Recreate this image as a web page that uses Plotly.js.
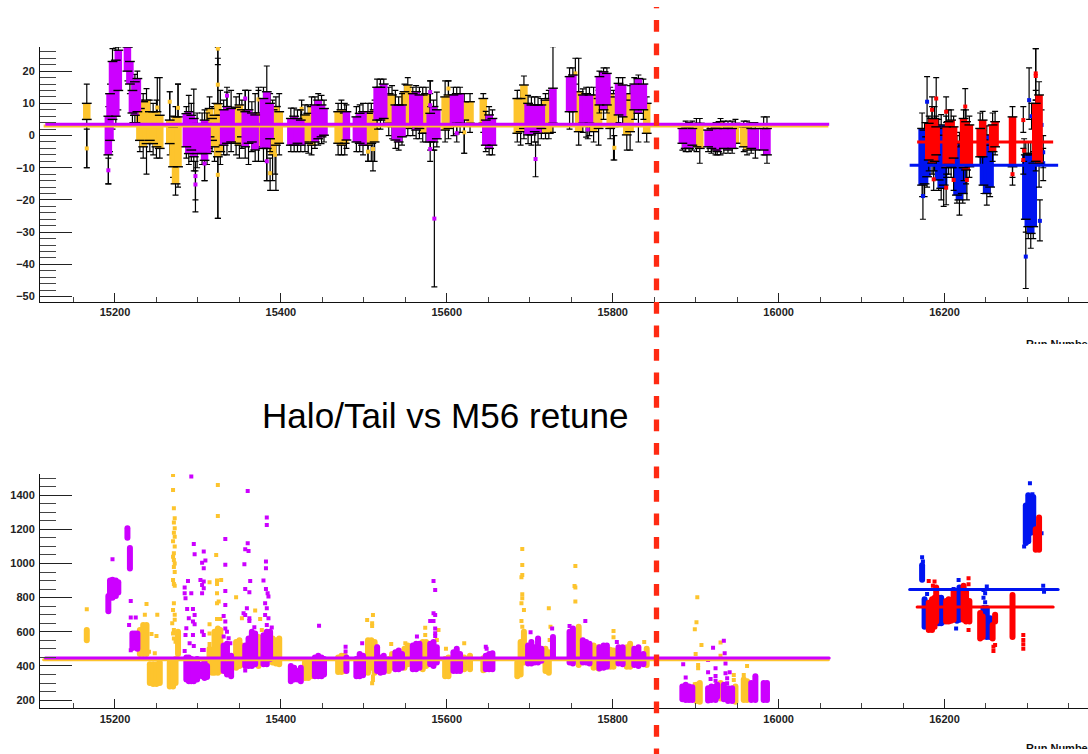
<!DOCTYPE html>
<html><head><meta charset="utf-8">
<script src="https://cdn.plot.ly/plotly-3.0.1.min.js"></script>
<style>html,body{margin:0;padding:0;background:#fff;overflow:hidden;width:1088px;height:754px}
#chart{width:1088px;height:754px;position:relative}
#chart .subplot.x2y2 .js-line{stroke-linecap:round}
.cut{position:absolute;background:#fff;left:1015px;width:73px;height:7px;z-index:5}</style>
</head><body><div id="chart"></div>
<div class="cut" style="top:344px"></div><div class="cut" style="top:749px"></div>
<script>
// ---- period 1 (orange) ----
const orangeRuns=[15166,15230,15234,15238,15242,15246,15250,15254,15266,15270,15273,15276,15314,15317,15320,15324,15327,15346,15350,15353,15373,15390,15394,15398,15429,15433,15437,15469,15473,15477,15505,15509,15513,15530,15534,15549,15553,15571,15575,15598,15602,15621,15628,15644,15685,15689,15693,15719,15723,15759,15777,15783,15797,15801,15817,15821,15841,15901,15905,15930,15948,15958,15962];
const orangeTopLow=[5,-1.5,-3.5,-2.5,-1.5,-2.5,-3.5,-4,-2.5,-9.7,-15,-9.7,-0.4,-1.5,-3.5,-6.6,-5,-2.4,-3,-0.4,-3.5,-6,-3,-2.4,-2,-2.4,-3,-2.4,-3,-2.4,-3,-2.4,-2,3.8,2.8,3.3,2.2,0.7,0.7,1.7,2.2,4.8,3.8,3.8,0.7,1.2,2.2,0.7,0.7,1.2,1.2,2.2,2.2,2.8,0.2,1.2,0.7,-3.5,-4,-4,-2.4,-3.5,-4.5];
const orangeTopHigh=[10,8.4,10.5,11,7.4,7.4,7.4,6.3,4.8,2.7,5.8,5.8,8.4,5.3,6.3,9.9,6.3,8.8,9.5,8,7,8,9,7.4,6.4,6.9,9,7.4,8,7,6.9,7.4,8,13,12.6,13.6,15.7,12.6,13,12,12.6,10.5,10.5,11.5,11.5,11.5,15.7,11,11.5,13.6,12.6,11.5,13,12,11,13,10,3.8,3.8,4.3,3.8,2.7,2.7];
const orangeTopErrLow=[-10,-5,-7,-12,-5,-6,-7,-7,-6,-13,-18.5,-16,-4,-5,-8,-25.7,-9,-6,-7,-4,-8,-14,-17,-6,-5,-5.5,-6,-6,-6,-6,-8,-8,-8,0,-1,0,0,-2,-2,-2,-1,-5.5,1,1,-2,-3,-1,-1,-1,-3,-2,-3,-1,-7.6,-4.5,-4.5,-2,-5,-8.6,-6,-4,-5,-6];
const orangeTopErrHigh=[16,11,13,14.6,11,10,11,18,13.6,6,9,16,12,9,10,27.5,14,12,13,11,14,11,12,13,9.5,9.5,12,10,11,10,10,10,11,15,15.5,16,18,15,15,17,17,13,13,13,14,14,18.5,13,14,24,15,14,15,14,13,15.5,12,5.3,5.3,5.3,5,4.5,4.5];
const orangeBotLow=[550,470,470,470,300,295,295,300,280,280,300,470,370,360,360,360,370,390,400,410,400,420,415,410,330,330,340,365,365,370,360,390,360,370,390,390,410,380,400,340,340,380,380,375,340,350,420,370,360,405,390,385,395,395,395,395,405,195,190,210,190,200,200];
const orangeBotHigh=[610,610,640,640,410,410,410,420,420,420,440,600,500,420,600,620,610,540,550,520,570,560,550,560,420,420,430,450,460,460,550,550,540,440,470,500,520,540,540,440,450,450,460,445,420,540,600,500,480,630,520,510,495,490,510,530,500,290,300,300,280,320,310];
// ---- period 1 (magenta) ----
const magentaRuns=[15192,15194,15197,15201,15204,15215,15218,15221,15224,15227,15286,15289,15292,15295,15299,15305,15308,15311,15331,15335,15340,15357,15361,15365,15369,15379,15383,15387,15412,15416,15420,15424,15441,15445,15449,15452,15479,15491,15495,15499,15516,15520,15524,15538,15542,15546,15559,15563,15567,15580,15584,15588,15608,15612,15616,15647,15651,15655,15698,15702,15706,15710,15714,15728,15748,15752,15764,15768,15772,15784,15789,15793,15807,15812,15826,15831,15837,15884,15888,15892,15896,15915,15919,15924,15926,15934,15939,15944,15967,15972,15982,15986];
const magentaTopLow=[-6,-1.5,5,6,14,20,16,7,6.3,7.4,-3.5,-5.6,-4.5,-6.6,-5.6,-5.6,-7.7,-5.6,-3,-2.4,-2,-3.5,-2.4,-2,-4.5,-4,-4,-1,-3,-3,-2.4,-3,-2,-1,-0.4,0.1,-1.4,-2,-2.4,-3,4.8,4.8,5.3,-1.4,-2,-0.4,2.8,1.7,2.2,-2,-2,-1,3.3,3.8,3.8,-3,-4,-3,0.2,0.2,1.2,0.7,2.2,3.8,7.4,7.4,3.8,3.3,3.8,9.5,8,9.5,6.4,5.8,8,6.9,8,-2.4,-4,-4,-3,-3.5,-4,-4.5,-5,-4,-4.5,-4,-4,-4.5,-4.5,-6];
const magentaTopHigh=[6,13,23,23.4,26.5,27.5,23,14,16.7,17.7,6.8,7.4,6.3,5.3,3.7,3.7,4.8,3.7,8,9,8.4,7.4,8,7,6.4,11.5,13.6,10,5.3,6,5.3,4.8,9.5,11,9.5,8.4,7.4,5.8,6.9,7.4,15,15,16,9.5,9.5,9.5,13,13.6,12.6,6.9,9,8,12.6,13,13,4.8,6.4,5.3,10,9.5,9.5,9.5,9.5,14.7,18.3,18.8,12.6,13,12.6,18.3,19.8,19.3,16.2,15.7,16,17.7,16,2.2,2.7,2.7,2.2,1.7,2.2,2.7,2.2,2.2,2.7,2.2,2.2,2.2,2.2,2.2];
const magentaTopErrLow=[-15,-5,2,3,8,17,13,4,4,4,-7,-9,-8,-11,-10,-9,-14,-9,-6,-6,-5,-7,-9,-5,-8,-8,-14,-5,-5,-5,-5,-5,-4,-3,-2.5,-2,-4,-5,-5,-6,2,2,3,-4,-4.5,-3,0,-1,-1,-4.5,-4.5,-3.5,0,0.5,1,-5,-6,-6,-2.5,-3,-2,-3,-1,1,2,3,1,-0.5,0,7,5,7,4,3,5,-2,5,-4.5,-5,-5,-4.5,-5,-5.5,-6,-6,-5.5,-5.5,-5.5,-5.5,-7,-6,-8.6];
const magentaTopErrHigh=[9,16,27,27.5,27.5,27.5,27.5,17,19,20,9,12.5,10,14.4,7,7,8,7,11,13.5,14,14,14,10.5,13,15,21.6,13,8.5,8.5,8,8,12,13,12.5,11,9.5,9,9.5,10,17.5,17.5,17.5,14,12,13,15,15.5,15,17,11,13.5,15,15,15,7.5,9,8,12.5,12,12,12,11.5,27.6,21,21,14.5,15,15,20,21,21,18,18,18,18.8,17.5,3.5,4.5,4,4.5,3,3.5,4,4,4.5,4.5,4.5,4,4,5.8,5.8];
const magentaBotLow=[720,800,800,810,830,1150,970,505,510,500,320,310,310,310,320,340,330,335,370,350,340,400,400,400,410,410,410,440,310,320,320,310,340,340,340,350,370,340,340,345,370,360,365,380,380,390,380,380,390,410,400,420,370,370,370,380,380,380,415,415,420,420,430,455,420,415,420,420,415,385,390,395,415,410,405,400,410,205,200,200,200,197,200,200,220,205,195,195,200,200,200,200];
const magentaBotHigh=[810,900,905,900,890,1206,1090,590,590,590,450,450,440,430,440,410,420,400,520,530,460,520,560,600,590,580,600,600,400,390,370,390,450,460,450,440,450,440,470,460,510,450,460,480,490,470,520,530,530,530,540,510,480,500,470,460,470,475,520,540,510,560,500,570,600,620,550,540,530,510,520,520,510,510,500,510,470,280,290,280,275,270,280,280,290,290,270,270,300,340,300,300];
// ---- period 2 (blue, red) ----
const blueRuns=[16173,16176,16179,16193,16196,16199,16215,16218,16222,16247,16251,16255,16298,16301,16304,16307];
const blueTopLow=[-15.4,-15,-12.8,-13.8,-16.4,-15.4,-18.5,-20,-18,-15.4,-18,-16,-26,-28.3,-30.4,-28.3];
const blueTopHigh=[2.2,1.7,-0.4,2.2,3.3,0.1,-3.5,-2.4,-3,-1.4,0.2,-3,-6,-5.5,-6,-8.6];
const blueTopErrLow=[-19,-19,-16,-17,-20,-22,-21,-24.7,-21,-18,-21.6,-19,-30,-32,-35,-32];
const blueTopErrHigh=[7,4,4,5,6.5,3,0,1,0,1.5,3,0,-2,-2,-2,-5];
const blueBotLow=[905,630,640,650,650,660,665,670,680,640,570,570,1120,1130,1180,1200];
const blueBotHigh=[990,790,760,800,800,760,830,860,850,740,740,680,1340,1400,1350,1390];
const redRuns=[16181,16185,16188,16190,16202,16205,16208,16211,16223,16226,16230,16243,16246,16258,16261,16282,16310,16314];
const redTopLow=[-7.6,-8.6,-8,-6,-10,-9,-9.7,-7,-10,-10.7,-9.7,-6.6,-6.6,-5,-3.5,-9.7,-8,-8.6];
const redTopHigh=[3.8,5.3,5.3,2.7,2.7,4.3,4.8,2.7,5.3,4.3,3.3,2.2,4.8,3.3,4.3,5.8,10,12.6];
const redTopErrLow=[-11,-12,-11,-9,-13,-12,-13,-10,-14,-15,-13,-9,-9,-8,-6,-13,-11,-16];
const redTopErrHigh=[6,9,9,6,6,8,8,6,8,8,6,7,7.5,7,7.5,9,14,16.7];
const redBotLow=[610,610,630,660,660,660,665,670,670,660,660,560,570,560,660,570,1080,1080];
const redBotHigh=[770,790,800,860,780,790,780,840,870,840,780,710,690,640,700,815,1200,1270];
// ---- isolated points, upper panel ----
const orangeTopOutRuns=[15166,15251,15266,15276,15324,15324,15324,15373,15387,15393,15425,15505,15511,15602,15621,15755,15802];
const orangeTopOutVals=[-4,8.7,10.5,8.6,27,15.8,-12.2,11.2,-11.7,-6,8.3,-5,-4.2,14.6,1,19.3,-3.8];
const orangeTopOutLow=[-10,0,2,2,22,9,-25.7,7,-17,-12,5,-8,-11,11,-5.5,16,-7.6];
const orangeTopOutHigh=[2,18,13.6,16,27.5,24,-5,15,-7,-2,11,-2,-1,17,6,24,0];
const magentaTopOutRuns=[15192,15297,15297,15308,15335,15357,15383,15580,15580,15580,15585,15612,15707,15770];
const magentaTopOutVals=[-10.8,-12.6,-15.2,-8.7,12.4,11.5,-8,13.5,9.4,-4.2,-25.8,0.7,-7.3,1.9];
const magentaTopOutLow=[-15,-20,-23.7,-14,9,8,-14,9,6,-8,-47,-2,-12.8,-1];
const magentaTopOutHigh=[-7,-8,-11,-5,15,14,-4,17,13,-1,-4.5,3.5,-2,5];
const blueTopOutRuns=[16179,16174,16298,16302,16305,16315,16319,16319,16317];
const blueTopOutVals=[10.5,-18.8,-37.6,11,6,-26.5,-8.6,-5.2,3.3];
const blueTopOutLow=[3,-26,-47.5,5,2,-32.7,-14,-10,-2];
const blueTopOutHigh=[18.3,-12,-26,21,10,-20,-4,0,8];
const redTopOutRuns=[16190,16185,16187,16202,16202,16211,16225,16227,16282,16295,16295,16296,16310,16310];
const redTopOutVals=[11.5,8,-13.6,7.4,-16.2,-13.8,9,-13.8,-12,-7.6,4.8,-4.7,19.3,18.5];
const redTopOutLow=[5,5,-17,4,-21.5,-17,4,-20,-15.4,-12,1,-8,11,11];
const redTopOutHigh=[18,12,-9,12,-12,-10,14.6,-9,-9,-4,9,-1,27,27];
// ---- isolated points, lower panel ----
const orangeBotOutRuns=[15166,15238,15251,15244,15250,15241,15248,15236,15270,15270,15271,15272,15271,15272,15271,15272,15270,15272,15271,15270,15271,15272,15271,15272,15270,15271,15272,15271,15270,15272,15272,15269,15271,15270,15271,15273,15324,15324,15322,15323,15323,15328,15314,15323,15323,15325,15314,15314,15327,15323,15314,15314,15346,15353,15369,15375,15377,15504,15511,15510,15510,15511,15510,15511,15533,15550,15574,15574,15590,15588,15599,15621,15691,15691,15691,15690,15691,15691,15690,15693,15690,15691,15686,15688,15723,15725,15724,15755,15754,15755,15755,15801,15801,15838,15841,15902,15901,15899,15907,15900,15903,15903,15899,15930,15930,15946,15946,15962,15958];
const orangeBotOutVals=[732,763,700,587,575,483,474,700,1518,1430,1323,1265,1240,1206,1180,1157,1130,1099,1060,1040,1020,1000,980,950,903,880,870,767,728,700,670,650,611,590,560,542,1460,1278,1050,900,880,903,890,825,767,777,644,590,675,675,529,497,802,680,724,675,611,669,699,650,634,338,298,318,529,533,624,581,611,552,500,533,1085,991,933,919,820,797,767,728,663,630,345,377,738,630,552,986,868,860,777,605,568,540,500,802,656,615,523,470,405,386,293,537,460,347,318,400,347];
const magentaBotOutRuns=[15197,15219,15219,15225,15217,15219,15292,15295,15296,15307,15305,15309,15307,15288,15303,15307,15305,15284,15284,15292,15305,15307,15285,15287,15294,15289,15296,15294,15296,15286,15285,15294,15305,15307,15290,15295,15284,15305,15307,15333,15333,15333,15333,15331,15333,15333,15335,15331,15337,15339,15360,15360,15357,15361,15356,15363,15357,15362,15359,15355,15357,15362,15362,15368,15357,15383,15383,15382,15382,15379,15382,15384,15385,15381,15383,15381,15385,15383,15389,15446,15478,15478,15498,15516,15564,15584,15586,15584,15586,15580,15584,15586,15586,15586,15647,15648,15701,15727,15748,15767,15805,15885,15888,15921,15915,15924,15915,15924,15918,15924,15934,15935,15936,15936,15941,15938,15938];
const magentaBotOutVals=[1025,780,683,683,640,492,1509,1114,1054,1070,1005,1017,972,898,904,894,874,859,825,825,825,855,796,734,734,679,699,660,644,621,581,581,601,581,533,517,488,494,494,1144,993,839,757,693,660,620,600,572,562,533,1425,1118,1083,1073,995,898,851,831,738,708,699,679,663,626,373,1269,1226,1011,972,900,851,825,806,767,738,699,679,640,625,636,513,484,533,513,572,898,845,708,699,663,663,620,591,576,513,500,597,620,634,663,540,410,333,507,435,386,363,341,324,314,548,474,415,357,363,328,298];
const blueBotOutRuns=[16173,16174,16179,16217,16214,16211,16251,16247,16249,16247,16249,16303,16306,16296,16319,16320,16315,16315,16317];
const blueBotOutVals=[1036,1011,822,904,620,851,865,845,825,800,773,1470,1405,1100,870,835,1100,1235,1177];
const redBotOutRuns=[16181,16188,16186,16229,16229,16229,16259,16259,16261,16295,16295,16295,16295];
const redBotOutVals=[898,894,870,913,878,610,513,488,523,581,552,527,500];
// ---- fitted mean lines ----
const orangeSpan=[15114,16060], magentaSpan=[15116,16061], redSpan=[16167,16331], blueSpan=[16158,16337];
const orangeMeanTop=3.0, magentaMeanTop=3.5, redMeanTop=-2.0, blueMeanTop=-9.2;
const orangeMeanBot=436, magentaMeanBot=446, redMeanBot=745, blueMeanBot=847;
// ---- labels ----
const titleText="Halo/Tail vs M56 retune", xAxisLabel="Run Number";

const ORANGE="#fdc42d",MAGENTA="#cc00ff",BLUE="#0014f0",RED="#ff0000";
const traces=[];
function whiskers(runs,lo,hi,xa,ya,capw){
  const mid=lo.map((v,i)=>(v+hi[i])/2);
  traces.push({type:'scatter',mode:'markers',x:runs,y:mid,xaxis:xa,yaxis:ya,hoverinfo:'skip',
    marker:{size:1,opacity:0},
    error_y:{type:'data',symmetric:false,array:hi.map((v,i)=>v-mid[i]),arrayminus:lo.map((v,i)=>mid[i]-v),color:'#000',thickness:1.2,width:capw}});
}
function columns(runs,lo,hi,color,xa,ya,w){
  const x=[],y=[];
  runs.forEach((r,i)=>{x.push(r,r,null);y.push(lo[i],hi[i],null);});
  traces.push({type:'scatter',mode:'lines',x,y,xaxis:xa,yaxis:ya,hoverinfo:'skip',line:{color,width:w}});
}
function points(runs,vals,color,xa,ya){
  traces.push({type:'scatter',mode:'markers',x:runs,y:vals,xaxis:xa,yaxis:ya,hoverinfo:'skip',marker:{symbol:'square',size:4,color}});
}
function edges(runs,lo,hi){
  traces.push({type:'scatter',mode:'markers',x:runs.concat(runs),y:lo.concat(hi),xaxis:'x',yaxis:'y',hoverinfo:'skip',
    marker:{symbol:'line-ew-open',size:7,color:'#000',line:{color:'#000',width:1.4}}});
}
function mean(span,v,color,xa,ya){
  traces.push({type:'scatter',mode:'lines',x:span,y:[v,v],xaxis:xa,yaxis:ya,hoverinfo:'skip',line:{color,width:3}});
}
function topSeries(runs,lo,hi,eLo,eHi,oR,oV,oLo,oHi,color){
  whiskers(oR,oLo,oHi,'x','y',3);
  whiskers(runs,eLo,eHi,'x','y',3);
  columns(runs,lo,hi,color,'x','y',7.5);
  edges(runs,lo,hi);
  points(oR,oV,color,'x','y');
}
topSeries(orangeRuns,orangeTopLow,orangeTopHigh,orangeTopErrLow,orangeTopErrHigh,orangeTopOutRuns,orangeTopOutVals,orangeTopOutLow,orangeTopOutHigh,ORANGE);
topSeries(magentaRuns,magentaTopLow,magentaTopHigh,magentaTopErrLow,magentaTopErrHigh,magentaTopOutRuns,magentaTopOutVals,magentaTopOutLow,magentaTopOutHigh,MAGENTA);
topSeries(blueRuns,blueTopLow,blueTopHigh,blueTopErrLow,blueTopErrHigh,blueTopOutRuns,blueTopOutVals,blueTopOutLow,blueTopOutHigh,BLUE);
topSeries(redRuns,redTopLow,redTopHigh,redTopErrLow,redTopErrHigh,redTopOutRuns,redTopOutVals,redTopOutLow,redTopOutHigh,RED);
mean(orangeSpan,orangeMeanTop,ORANGE,'x','y');mean(magentaSpan,magentaMeanTop,MAGENTA,'x','y');
mean(blueSpan,blueMeanTop,BLUE,'x','y');mean(redSpan,redMeanTop,RED,'x','y');

columns(orangeRuns,orangeBotLow,orangeBotHigh,ORANGE,'x2','y2',6);points(orangeBotOutRuns,orangeBotOutVals,ORANGE,'x2','y2');
columns(magentaRuns,magentaBotLow,magentaBotHigh,MAGENTA,'x2','y2',6);points(magentaBotOutRuns,magentaBotOutVals,MAGENTA,'x2','y2');
columns(blueRuns,blueBotLow,blueBotHigh,BLUE,'x2','y2',6);points(blueBotOutRuns,blueBotOutVals,BLUE,'x2','y2');
columns(redRuns,redBotLow,redBotHigh,RED,'x2','y2',6);points(redBotOutRuns,redBotOutVals,RED,'x2','y2');
mean(orangeSpan,orangeMeanBot,ORANGE,'x2','y2');mean(magentaSpan,magentaMeanBot,MAGENTA,'x2','y2');
mean(blueSpan,blueMeanBot,BLUE,'x2','y2');mean(redSpan,redMeanBot,RED,'x2','y2');

const W=1088,H=754;
const tickFont={family:'"Liberation Sans",Arial,sans-serif',size:11,color:'#222'};
const xCommon={range:[15109.6,16373],domain:[40/W,1],dtick:200,tick0:15200,ticks:'inside',ticklen:9,tickcolor:'#222',tickwidth:1,
  showgrid:false,zeroline:false,showline:true,linecolor:'#111',linewidth:1,tickfont:{...tickFont,weight:700},
  minor:{dtick:50,tick0:15200,ticks:'inside',ticklen:5,tickcolor:'#444',showgrid:false},tickformat:'d'};
const yCommon={ticks:'inside',ticklen:32,tickcolor:'#222',showgrid:false,zeroline:false,showline:true,linecolor:'#111',linewidth:1,
  tickfont:{...tickFont,weight:700},ticklabelstandoff:2};
const layout={width:W,height:H,margin:{l:0,r:0,t:0,b:0,pad:0},showlegend:false,paper_bgcolor:'#fff',plot_bgcolor:'#fff',
  xaxis:{...xCommon,anchor:'y'},
  yaxis:{...yCommon,anchor:'x',domain:[(H-302)/H,(H-47)/H],range:[-51.7,27.5],dtick:10,tick0:0,minor:{dtick:2,tick0:0,ticks:'inside',ticklen:16,tickcolor:'#444',showgrid:false}},
  xaxis2:{...xCommon,anchor:'y2'},
  yaxis2:{...yCommon,anchor:'x2',domain:[(H-708.3)/H,(H-474)/H],range:[152,1524],dtick:200,tick0:0,minor:{dtick:50,tick0:0,ticks:'inside',ticklen:16,tickcolor:'#444',showgrid:false}},
  shapes:[
   {type:'line',xref:'paper',yref:'paper',x0:656.5/W,x1:656.5/W,y0:1-20/H,y1:0,layer:'above',line:{color:'#ff2a12',width:5.3,dash:'11.7px,11.8px'}},
   {type:'line',xref:'paper',yref:'paper',x0:656.5/W,x1:656.5/W,y0:1-7/H,y1:1-8.3/H,layer:'above',line:{color:'#ff2a12',width:5.3}}
  ],
  annotations:[
   {xref:'paper',yref:'paper',x:260/W,y:1-415/H,xanchor:'left',yanchor:'middle',showarrow:false,text:titleText,font:{family:'"Liberation Sans",Arial,sans-serif',size:35.1,color:'#000'}},
   {xref:'paper',yref:'paper',x:1025/W,y:1-337/H,xanchor:'left',yanchor:'top',showarrow:false,text:xAxisLabel,font:{family:'"Liberation Sans",Arial,sans-serif',size:11,color:'#111',weight:700},borderpad:0},
   {xref:'paper',yref:'paper',x:1025/W,y:1-741/H,xanchor:'left',yanchor:'top',showarrow:false,text:xAxisLabel,font:{family:'"Liberation Sans",Arial,sans-serif',size:11,color:'#111',weight:700},borderpad:0}
  ]};
Plotly.newPlot('chart',traces,layout,{staticPlot:true,displayModeBar:false});
</script></body></html>
